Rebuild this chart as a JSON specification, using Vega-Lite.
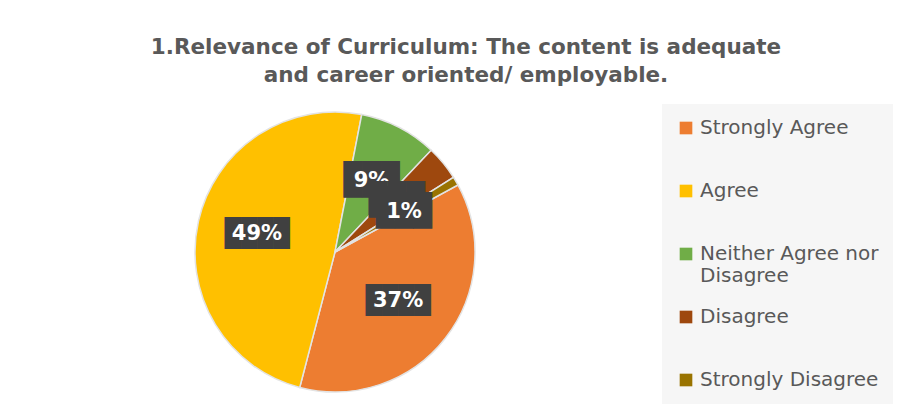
{
  "$schema": "https://vega.github.io/schema/vega-lite/v6.json",
  "width": 650,
  "height": 314,
  "autosize": "none",
  "padding": {"left": 10, "top": 95, "right": 249, "bottom": 0},
  "background": "white",
  "title": {
    "text": ["1.Relevance of Curriculum: The content is adequate", "and career oriented/ employable."],
    "font": "DejaVu Sans",
    "fontSize": 21.5,
    "fontWeight": "bold",
    "color": "#595959",
    "anchor": "middle",
    "lineHeight": 28,
    "dx": 131,
    "offset": 9
  },
  "data": {
    "values": [
      {"response": "Strongly Agree", "percent": 37, "label": "37%", "idx": 1},
      {"response": "Agree", "percent": 49, "label": "49%", "idx": 2},
      {"response": "Neither Agree nor Disagree", "percent": 9, "label": "9%", "idx": 3},
      {"response": "Disagree", "percent": 4, "label": "4%", "idx": 4},
      {"response": "Strongly Disagree", "percent": 1, "label": "1%", "idx": 5}
    ]
  },
  "encoding": {
    "theta": {"field": "percent", "type": "quantitative", "stack": true, "scale": {"range": [1.0716, 7.3548]}},
    "order": {"field": "idx", "type": "quantitative", "sort": "ascending"}
  },
  "layer": [
    {
      "mark": {"type": "arc", "radius": 140, "stroke": "#e3e3e3", "strokeWidth": 1.5},
      "encoding": {
        "color": {
          "field": "response",
          "type": "nominal",
          "sort": null,
          "scale": {
            "domain": ["Strongly Agree", "Agree", "Neither Agree nor Disagree", "Disagree", "Strongly Disagree"],
            "range": ["#ED7D31", "#FFC000", "#70AD47", "#9E480E", "#997300"]
          },
          "legend": {
            "title": null,
            "orient": "none",
            "legendX": 652,
            "legendY": 9,
            "padding": 14,
            "fillColor": "#f6f6f6",
            "labelFont": "DejaVu Sans",
            "labelFontSize": 20,
            "labelColor": "#595959",
            "labelLimit": 300,
            "labelOffset": 4,
            "labelExpr": "datum.label == 'Neither Agree nor Disagree' ? ['Neither Agree nor', 'Disagree'] : datum.label",
            "symbolType": "square",
            "symbolSize": 160,
            "symbolStrokeWidth": 0,
            "gridAlign": "all",
            "rowPadding": 21,
            "encode": {"labels": {"update": {"lineHeight": {"value": 25}}}}
          }
        }
      }
    },
    {
      "mark": {"type": "text", "radius": 80, "font": "DejaVu Sans Mono", "fontSize": 27, "color": "#404040", "baseline": "middle"},
      "encoding": {"text": {"condition": {"test": "length(datum.label) == 3", "value": "████"}, "value": ""}}
    },
    {
      "mark": {"type": "text", "radius": 80, "font": "DejaVu Sans", "fontSize": 21, "fontWeight": "bold", "color": "white", "baseline": "middle"},
      "encoding": {"text": {"condition": {"test": "length(datum.label) == 3", "field": "label"}, "value": ""}}
    },
    {
      "mark": {"type": "text", "radius": 80, "font": "DejaVu Sans Mono", "fontSize": 31, "color": "#404040", "baseline": "middle"},
      "encoding": {"text": {"condition": {"test": "datum.response == 'Neither Agree nor Disagree'", "value": "███"}, "value": ""}}
    },
    {
      "mark": {"type": "text", "radius": 80, "font": "DejaVu Sans", "fontSize": 21, "fontWeight": "bold", "color": "white", "baseline": "middle"},
      "encoding": {"text": {"condition": {"test": "datum.response == 'Neither Agree nor Disagree'", "field": "label"}, "value": ""}}
    },
    {
      "mark": {"type": "text", "radius": 80, "font": "DejaVu Sans Mono", "fontSize": 31, "color": "#404040", "baseline": "middle"},
      "encoding": {"text": {"condition": {"test": "datum.response == 'Disagree'", "value": "███"}, "value": ""}}
    },
    {
      "mark": {"type": "text", "radius": 80, "font": "DejaVu Sans Mono", "fontSize": 31, "color": "#404040", "baseline": "middle"},
      "encoding": {"text": {"condition": {"test": "datum.response == 'Strongly Disagree'", "value": "███"}, "value": ""}}
    },
    {
      "mark": {"type": "text", "radius": 80, "font": "DejaVu Sans", "fontSize": 21, "fontWeight": "bold", "color": "white", "baseline": "middle"},
      "encoding": {"text": {"condition": {"test": "datum.response == 'Strongly Disagree'", "field": "label"}, "value": ""}}
    }
  ]
}
